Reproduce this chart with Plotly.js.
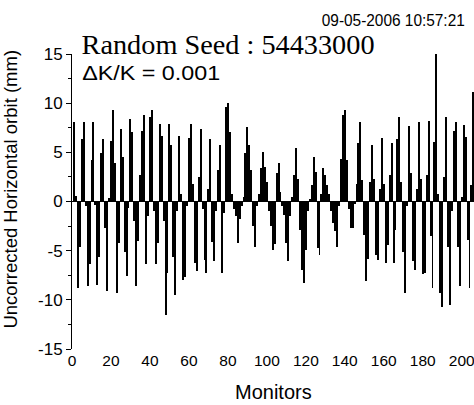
<!DOCTYPE html>
<html>
<head>
<meta charset="utf-8">
<script src="https://cdn.plot.ly/plotly-3.0.1.min.js"></script>
<style>html,body{margin:0;padding:0;background:#fff;overflow:hidden}#chart{width:474px;height:405px}</style>
</head>
<body>
<div id="chart"></div>
<script>
// Uncorrected horizontal orbit (mm) at each monitor
const orbit = [
  8.1, 0.6, -8.8, -4.6, 6.4, 8.1, -0.5, -8.6, -6.4, 4.2,
  8.1, -0.4, -8.5, -5.6, 4.9, 6.4, -2.7, -9.1, 0.4, 6.2,
  9.3, 3.9, -9.3, -4.2, 7.4, 4.5, -5.1, -7.6, -0.7, 8.4,
  7.1, -2.0, -8.6, -4.0, 2.7, 7.2, 8.8, -6.4, -1.5, 8.6,
  9.3, -1.0, -6.4, -4.2, 7.9, 6.7, -2.0, -11.5, -7.3, 7.9,
  5.7, -5.6, -9.5, -1.0, 6.7, 0.8, -8.0, -7.7, -0.5, 6.5,
  7.9, 1.8, -6.3, -7.1, 2.5, 7.4, -0.8, -5.9, -7.3, 1.3,
  6.4, -4.1, -6.0, -1.0, 3.2, 5.7, -7.3, -1.2, 9.6, 10.0,
  7.1, 0.8, -0.8, -1.5, -4.2, -1.8, -0.5, 0.5, 4.9, 7.6,
  5.7, 3.2, -2.5, -4.6, -0.5, 0.8, 3.4, 5.0, 3.5, 2.0,
  -1.0, -2.5, -4.9, -4.3, 2.9, 3.9, 1.0, -0.5, -1.4, -4.2,
  -6.0, -1.5, 0.5, 2.7, 5.4, 2.3, -2.9, -7.0, -8.3, -4.9,
  -1.0, 0.3, 1.7, 4.5, 3.0, -4.7, -5.4, 0.8, 3.4, 2.7,
  1.7, 0.8, -1.0, -2.2, -3.0, -4.6, -0.5, 4.3, 8.8, 9.3,
  4.2, -0.8, -2.7, -2.7, -0.3, 1.8, 5.9, 8.1, 2.2, -3.4,
  -8.1, -5.8, 2.0, 5.7, 2.3, -5.4, -5.9, 1.3, 6.5, 1.8,
  -6.3, -4.4, 2.7, 5.9, -6.3, -2.9, 6.4, 8.6, 2.0, -5.1,
  -9.3, -0.5, 7.7, 2.9, -6.0, -7.0, 1.3, 8.1, 2.3, -7.4,
  -7.3, 2.7, 8.2, -3.5, -8.8, 6.1, 15.0, 0.8, -9.3, -10.7,
  2.5, 8.6, -4.6, -10.5, -1.0, 7.2, 8.1, -4.6, -8.6, 0.5,
  7.8, 6.6, -3.9, -8.8, 1.7, 11.1, -5.0, -9.0
];
const monitors = orbit.map((_, i) => i + 1);
const xTickVals = [0, 20, 40, 60, 80, 100, 120, 140, 160, 180, 200];
const yTickVals = [-15, -10, -5, 0, 5, 10, 15];
const seedText = 'Random Seed : 54433000';
const dkText = '\u0394K/K = 0.001';
const stampText = '09-05-2006 10:57:21';

const L = 72, W = 474, H = 405, T = 53.6, B = 349.4;
const px = v => (v - L) / (W - L);
const py = v => (B - v) / (B - T);

const trace = {
  type: 'bar', x: monitors, y: orbit, width: 1,
  marker: {color: '#000', line: {width: 0}},
  hoverinfo: 'skip'
};

const layout = {
  width: W, height: H,
  margin: {l: L, r: 0, t: T, b: H - B, pad: 0},
  paper_bgcolor: '#fff', plot_bgcolor: '#fff',
  showlegend: false, bargap: 0,
  font: {family: 'Arial, Liberation Sans, sans-serif', color: '#000'},
  xaxis: {
    range: [0, 206.3], showline: false, showgrid: false, zeroline: false,
    ticks: '', tickvals: xTickVals, ticktext: xTickVals.map(String),
    ticklabeloverflow: 'allow',
    tickfont: {size: 15.5, family: 'Arial, Liberation Sans, sans-serif'}
  },
  yaxis: {
    range: [-15, 15], showline: true, linecolor: '#000', linewidth: 1,
    showgrid: false, zeroline: true, zerolinecolor: '#000', zerolinewidth: 1.5,
    ticks: 'outside', ticklen: 5, tickwidth: 1, tickcolor: '#000',
    tickvals: yTickVals, ticktext: yTickVals.map(String),
    tickfont: {size: 17, family: 'Arial, Liberation Sans, sans-serif'},
    minor: {ticks: 'outside', ticklen: 3, tickcolor: '#000', dtick: 2.5, showgrid: false}
  },
  annotations: [
    {xref: 'paper', yref: 'paper', x: px(10.5), y: py(189), textangle: -90,
     text: 'Uncorrected Horizontal orbit (mm)', showarrow: false,
     xanchor: 'center', yanchor: 'middle', font: {size: 18.5}},
    {xref: 'paper', yref: 'paper', x: px(273), y: py(393),
     text: 'Monitors', showarrow: false, xanchor: 'center', yanchor: 'middle',
     font: {size: 20}},
    {xref: 'paper', yref: 'paper', x: px(228.4), y: py(44), text: seedText,
     showarrow: false, xanchor: 'center', yanchor: 'middle',
     font: {size: 28, family: 'Liberation Serif, Times New Roman, serif'}},
    {xref: 'paper', yref: 'paper', x: px(151), y: py(72), text: dkText,
     showarrow: false, xanchor: 'center', yanchor: 'middle', font: {size: 21}},
    {xref: 'paper', yref: 'paper', x: px(393.5), y: py(20), text: stampText,
     showarrow: false, xanchor: 'center', yanchor: 'middle',
     font: {size: 16, family: 'Arial, Liberation Sans, sans-serif'}}
  ]
};

const fitWidths = {};
fitWidths[seedText] = 293;
fitWidths[dkText] = 138;
fitWidths[stampText] = 143;

Plotly.newPlot('chart', [trace], layout, {displayModeBar: false, staticPlot: true}).then(gd => {
  gd.querySelectorAll('.annotation-text').forEach(t => {
    const w = fitWidths[t.textContent];
    if (w) {
      t.setAttribute('textLength', String(w));
      t.setAttribute('lengthAdjust', 'spacingAndGlyphs');
    }
  });
});
</script>
</body>
</html>
